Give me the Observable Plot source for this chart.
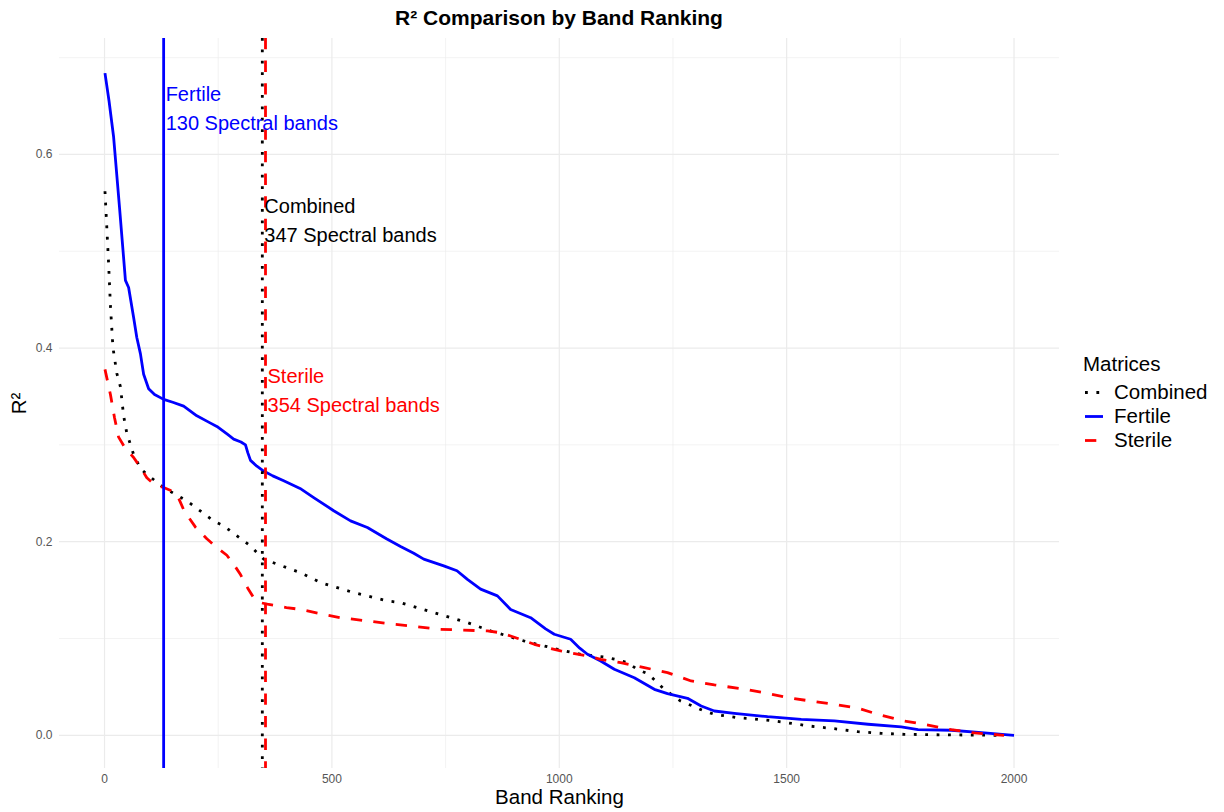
<!DOCTYPE html>
<html><head><meta charset="utf-8">
<script src="https://cdn.jsdelivr.net/npm/d3@7"></script>
<script src="https://cdn.jsdelivr.net/npm/@observablehq/plot@0.6"></script>
<style>
html,body{margin:0;padding:0;background:#fff;}
#wrap{position:relative;width:1224px;height:812px;font-family:"Liberation Sans",Arial,sans-serif;overflow:hidden;background:#fff}
#title{position:absolute;left:0;top:0;width:1118px;height:36px;line-height:36px;text-align:center;font-weight:bold;font-size:21px;color:#000}
#chart{position:absolute;left:0;top:36px}
#legend{position:absolute;left:1083px;top:352px;color:#000;font-size:20.5px}
#legend .row{position:relative;height:24px;line-height:24px;white-space:nowrap}
#legend svg{position:absolute;left:2px;top:0}
#legend .lab{position:absolute;left:31px;top:0}
</style></head><body>
<div id="wrap">
  <div id="title">R² Comparison by Band Ranking</div>
  <div id="chart"></div>
  <div id="legend"></div>
</div>
<script>
// ---- data ----
const seriesNames = ["Combined", "Fertile", "Sterile"];
const legendTitle = "Matrices";

const combinedRank = [1, 5, 9, 13, 18.5, 27, 35, 42, 49, 64, 80, 93, 130, 181, 240, 262, 300, 321, 339, 350, 380, 431, 475, 548, 622, 651, 724, 798, 849, 922, 996, 1047, 1099, 1124, 1150, 1172, 1194, 1212, 1231, 1267, 1293, 1315, 1341, 1392, 1422, 1473, 1524, 1550, 1605, 1657, 1708, 1759, 1840, 1965];
const combinedR2 = [0.562, 0.525, 0.487, 0.444, 0.4006, 0.374, 0.360, 0.330, 0.312, 0.290, 0.275, 0.2697, 0.2559, 0.2421, 0.2215, 0.2163, 0.203, 0.1956, 0.187, 0.182, 0.1767, 0.168, 0.1577, 0.1474, 0.1388, 0.137, 0.1267, 0.1164, 0.1078, 0.0975, 0.0889, 0.0837, 0.0809, 0.0785, 0.075, 0.068, 0.0637, 0.0561, 0.0475, 0.0354, 0.0303, 0.0258, 0.0217, 0.0182, 0.0172, 0.0148, 0.0114, 0.0096, 0.0068, 0.0037, 0.002, 0.001, 0.0005, 0.0];

const fertileRank = [1, 10, 20, 33, 46, 53, 64, 71, 79, 86, 97, 110, 130, 150, 174, 203, 231, 247, 270, 284, 300, 310, 315, 321, 335, 350, 370, 394, 430, 460, 504, 541, 578, 620, 651, 680, 702, 746, 775, 798, 827, 864, 893, 937, 970, 989, 1025, 1045, 1062, 1091, 1121, 1165, 1209, 1238, 1282, 1312, 1341, 1385, 1458, 1532, 1605, 1679, 1752, 1789, 1862, 1935, 2000];
const fertileR2 = [0.684, 0.655, 0.618, 0.545, 0.470, 0.4626, 0.4316, 0.411, 0.394, 0.373, 0.358, 0.352, 0.347, 0.344, 0.340, 0.330, 0.323, 0.319, 0.311, 0.306, 0.303, 0.300, 0.292, 0.284, 0.278, 0.273, 0.268, 0.263, 0.255, 0.2456, 0.232, 0.2215, 0.2146, 0.203, 0.195, 0.188, 0.182, 0.175, 0.170, 0.161, 0.151, 0.144, 0.130, 0.1215, 0.110, 0.1044, 0.0992, 0.090, 0.0837, 0.0768, 0.0682, 0.0595, 0.0475, 0.043, 0.0382, 0.0303, 0.0251, 0.0227, 0.0192, 0.0165, 0.0148, 0.0114, 0.0086, 0.0058, 0.0052, 0.0024, 0.0];

const sterileRank = [1, 13, 22, 31, 45, 64, 80, 93, 110, 130, 150, 160, 175, 200, 225, 247, 269, 285, 299, 315, 328, 343, 358, 400, 431, 480, 519, 580, 636, 673, 739, 842, 870, 893, 945, 1003, 1062, 1091, 1135, 1187, 1238, 1290, 1341, 1400, 1451, 1502, 1553, 1605, 1657, 1708, 1759, 1811, 1862, 1913, 1978];
const sterileR2 = [0.378, 0.352, 0.328, 0.308, 0.297, 0.287, 0.276, 0.266, 0.259, 0.256, 0.252, 0.248, 0.232, 0.215, 0.203, 0.194, 0.186, 0.176, 0.166, 0.152, 0.142, 0.137, 0.1354, 0.132, 0.130, 0.125, 0.1215, 0.118, 0.1147, 0.113, 0.1095, 0.1078, 0.106, 0.1026, 0.094, 0.0871, 0.082, 0.0785, 0.075, 0.0699, 0.0647, 0.0561, 0.052, 0.0482, 0.044, 0.0389, 0.0354, 0.032, 0.0279, 0.0207, 0.0148, 0.0106, 0.0058, 0.0024, 0.0];

const bandCounts = [347, 130, 354];          // selected number of spectral bands per matrix
const labelR2 = [0.534, 0.650, 0.359];       // annotation height (R²)

const xMajorTicks = [0, 500, 1000, 1500, 2000];
const xMinorTicks = [250, 750, 1250, 1750];
const yMajorTicks = [0, 0.2, 0.4, 0.6];
const yMinorTicks = [0.1, 0.3, 0.5, 0.7];

// ---- styles ----
const styles = {
  Combined: {color: "#000000", dash: "2.8,8.6"},
  Fertile:  {color: "#0000FF", dash: null},
  Sterile:  {color: "#FF0000", dash: "11.3,11.3"}
};
const font = '"Liberation Sans", Arial, sans-serif';
const LW = 2.8;

const rankArrays = [combinedRank, fertileRank, sterileRank];
const r2Arrays = [combinedR2, fertileR2, sterileR2];

const series = seriesNames.map((name, i) => ({
  name,
  rows: rankArrays[i].map((r, j) => ({rank: r, r2: r2Arrays[i][j]})),
  bands: bandCounts[i],
  labelY: labelR2[i]
}));

const gridColor = "#ebebeb";
const marks = [
  Plot.gridX(xMinorTicks, {stroke: gridColor, strokeOpacity: 1, strokeWidth: 0.6}),
  Plot.gridY(yMinorTicks, {stroke: gridColor, strokeOpacity: 1, strokeWidth: 0.6}),
  Plot.gridX(xMajorTicks, {stroke: gridColor, strokeOpacity: 1, strokeWidth: 1.2}),
  Plot.gridY(yMajorTicks, {stroke: gridColor, strokeOpacity: 1, strokeWidth: 1.2}),
  Plot.axisX(xMajorTicks, {tickSize: 0, tickPadding: 6, tickFormat: d => String(d), fontSize: 12, color: "#555", label: null}),
  Plot.axisY(yMajorTicks, {tickSize: 0, tickPadding: 7, tickFormat: d3.format(".1f"), fontSize: 12, color: "#555", label: null})
];

for (const s of series) {
  const st = styles[s.name];
  marks.push(Plot.line(s.rows, {x: "rank", y: "r2", stroke: st.color, strokeWidth: LW,
    strokeDasharray: st.dash || undefined, strokeLinecap: "butt", strokeLinejoin: "round"}));
}
for (const s of series) {
  const st = styles[s.name];
  marks.push(Plot.ruleX([s.bands], {stroke: st.color, strokeWidth: LW,
    strokeDasharray: st.dash || undefined, strokeLinecap: "butt"}));
}
for (const s of series) {
  const st = styles[s.name];
  marks.push(Plot.text([s], {x: "bands", y: "labelY", text: d => `${d.name}\n${d.bands} Spectral bands`,
    fill: st.color, textAnchor: "start", lineAnchor: "middle", lineHeight: 1.45, dx: 2, fontSize: 20}));
}
marks.push(Plot.text(["Band Ranking"], {frameAnchor: "bottom", lineAnchor: "middle", textAnchor: "middle", dy: 29, fontSize: 20.5, fill: "#000"}));
marks.push(Plot.text(["R²"], {frameAnchor: "left", lineAnchor: "middle", textAnchor: "middle", dx: -40, rotate: -90, fontSize: 20.5, fill: "#000"}));

const chart = Plot.plot({
  width: 1224,
  height: 776,
  marginTop: 2,
  marginBottom: 44,
  marginLeft: 59,
  marginRight: 165,
  x: {domain: [-99, 2100]},
  y: {domain: [-0.0343, 0.7198]},
  style: {fontFamily: font, fontSize: "12px", background: "transparent", overflow: "visible"},
  marks
});
document.getElementById("chart").appendChild(chart);

// ---- legend ----
const legend = document.getElementById("legend");
const t = document.createElement("div");
t.className = "row";
t.textContent = legendTitle;
t.style.marginBottom = "4px";
legend.appendChild(t);
for (const name of seriesNames) {
  const st = styles[name];
  const row = document.createElement("div");
  row.className = "row";
  const svgNS = "http://www.w3.org/2000/svg";
  const svg = document.createElementNS(svgNS, "svg");
  svg.setAttribute("width", "20");
  svg.setAttribute("height", "24");
  const ln = document.createElementNS(svgNS, "line");
  ln.setAttribute("x1", "0"); ln.setAttribute("x2", "18");
  ln.setAttribute("y1", "12.5"); ln.setAttribute("y2", "12.5");
  ln.setAttribute("stroke", st.color);
  ln.setAttribute("stroke-width", LW);
  if (st.dash) ln.setAttribute("stroke-dasharray", st.dash);
  svg.appendChild(ln);
  row.appendChild(svg);
  const lab = document.createElement("span");
  lab.className = "lab";
  lab.textContent = name;
  row.appendChild(lab);
  legend.appendChild(row);
}
</script>
</body></html>
